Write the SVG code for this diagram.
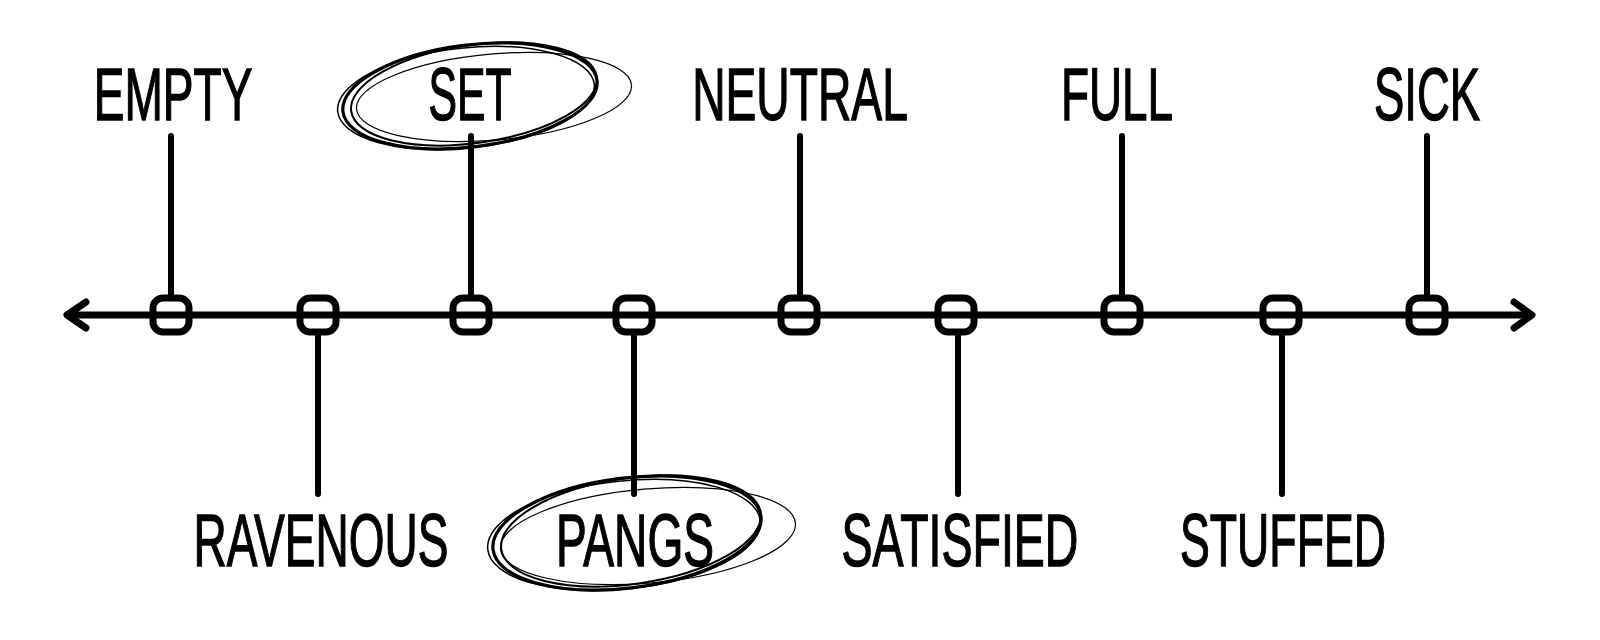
<svg xmlns="http://www.w3.org/2000/svg" width="1600" height="640" viewBox="0 0 1600 640">
<style>
.lbl{font-family:"Liberation Sans","DejaVu Sans",sans-serif;font-size:75px;fill:#000;stroke:#000;stroke-width:1.4;text-anchor:middle}
.stem{stroke:#000;stroke-width:6;stroke-linecap:round}
.node{fill:none;stroke:#000;stroke-width:7}
.axis{stroke:#000;stroke-width:7;stroke-linecap:round;fill:none;stroke-linejoin:round}
.sk{fill:none;stroke:#000;stroke-linecap:round}
</style>
<rect width="1600" height="640" fill="#fff"/>
<g id="connectors">
<line class="axis" x1="68" y1="315" x2="1530" y2="315"/>
<polyline class="axis" points="86,302 67,315 86,328"/>
<polyline class="axis" points="1514,302 1532,315 1514,328"/>
<line class="stem" x1="171" y1="136" x2="171" y2="295"/>
<line class="stem" x1="471" y1="136" x2="471" y2="295"/>
<line class="stem" x1="800" y1="136" x2="800" y2="295"/>
<line class="stem" x1="1122" y1="136" x2="1122" y2="295"/>
<line class="stem" x1="1427" y1="136" x2="1427" y2="295"/>
<line class="stem" x1="318" y1="335" x2="318" y2="494"/>
<line class="stem" x1="634" y1="335" x2="634" y2="494"/>
<line class="stem" x1="958" y1="335" x2="958" y2="494"/>
<line class="stem" x1="1282" y1="335" x2="1282" y2="494"/>
</g>
<g id="n-empty"><rect class="node" x="153" y="298" width="36" height="34" rx="10"/><text class="lbl" transform="translate(173 120) scale(0.62 1)" textLength="256" lengthAdjust="spacingAndGlyphs">EMPTY</text></g>
<g id="n-ravenous"><rect class="node" x="300" y="298" width="36" height="34" rx="10"/><text class="lbl" transform="translate(321 566) scale(0.62 1)" textLength="411" lengthAdjust="spacingAndGlyphs">RAVENOUS</text></g>
<g id="n-set"><rect class="node" x="453" y="298" width="36" height="34" rx="10"/><text class="lbl" transform="translate(470 120) scale(0.62 1)" textLength="134" lengthAdjust="spacingAndGlyphs">SET</text>
<g class="sk">
<ellipse cx="470" cy="96" rx="128" ry="51" transform="rotate(-7 470 96)" stroke-width="3.2"/>
<ellipse cx="474" cy="94" rx="124" ry="49" transform="rotate(-8 474 94)" stroke-width="2"/>
<ellipse cx="466" cy="98" rx="129" ry="50" transform="rotate(-6 466 98)" stroke-width="1.5"/>
<ellipse cx="494" cy="97" rx="138" ry="43" transform="rotate(-5 494 97)" stroke-width="1.2"/>
</g></g>
<g id="n-pangs"><rect class="node" x="616" y="298" width="36" height="34" rx="10"/><text class="lbl" transform="translate(635 566) scale(0.62 1)" textLength="255" lengthAdjust="spacingAndGlyphs">PANGS</text>
<g class="sk">
<ellipse cx="627" cy="533" rx="135" ry="55" transform="rotate(-7 627 533)" stroke-width="3.2"/>
<ellipse cx="631" cy="531" rx="131" ry="53" transform="rotate(-8 631 531)" stroke-width="2"/>
<ellipse cx="624" cy="535" rx="137" ry="54" transform="rotate(-6 624 535)" stroke-width="1.5"/>
<ellipse cx="648" cy="536" rx="148" ry="47" transform="rotate(-5 648 536)" stroke-width="1.2"/>
</g></g>
<g id="n-neutral"><rect class="node" x="781" y="298" width="36" height="34" rx="10"/><text class="lbl" transform="translate(800 120) scale(0.62 1)" textLength="348" lengthAdjust="spacingAndGlyphs">NEUTRAL</text></g>
<g id="n-satisfied"><rect class="node" x="938" y="298" width="36" height="34" rx="10"/><text class="lbl" transform="translate(960 566) scale(0.62 1)" textLength="382" lengthAdjust="spacingAndGlyphs">SATISFIED</text></g>
<g id="n-full"><rect class="node" x="1104" y="298" width="36" height="34" rx="10"/><text class="lbl" transform="translate(1117 120) scale(0.62 1)" textLength="181" lengthAdjust="spacingAndGlyphs">FULL</text></g>
<g id="n-stuffed"><rect class="node" x="1263" y="298" width="36" height="34" rx="10"/><text class="lbl" transform="translate(1283 566) scale(0.62 1)" textLength="332" lengthAdjust="spacingAndGlyphs">STUFFED</text></g>
<g id="n-sick"><rect class="node" x="1409" y="298" width="36" height="34" rx="10"/><text class="lbl" transform="translate(1427 120) scale(0.62 1)" textLength="171" lengthAdjust="spacingAndGlyphs">SICK</text></g>
</svg>
